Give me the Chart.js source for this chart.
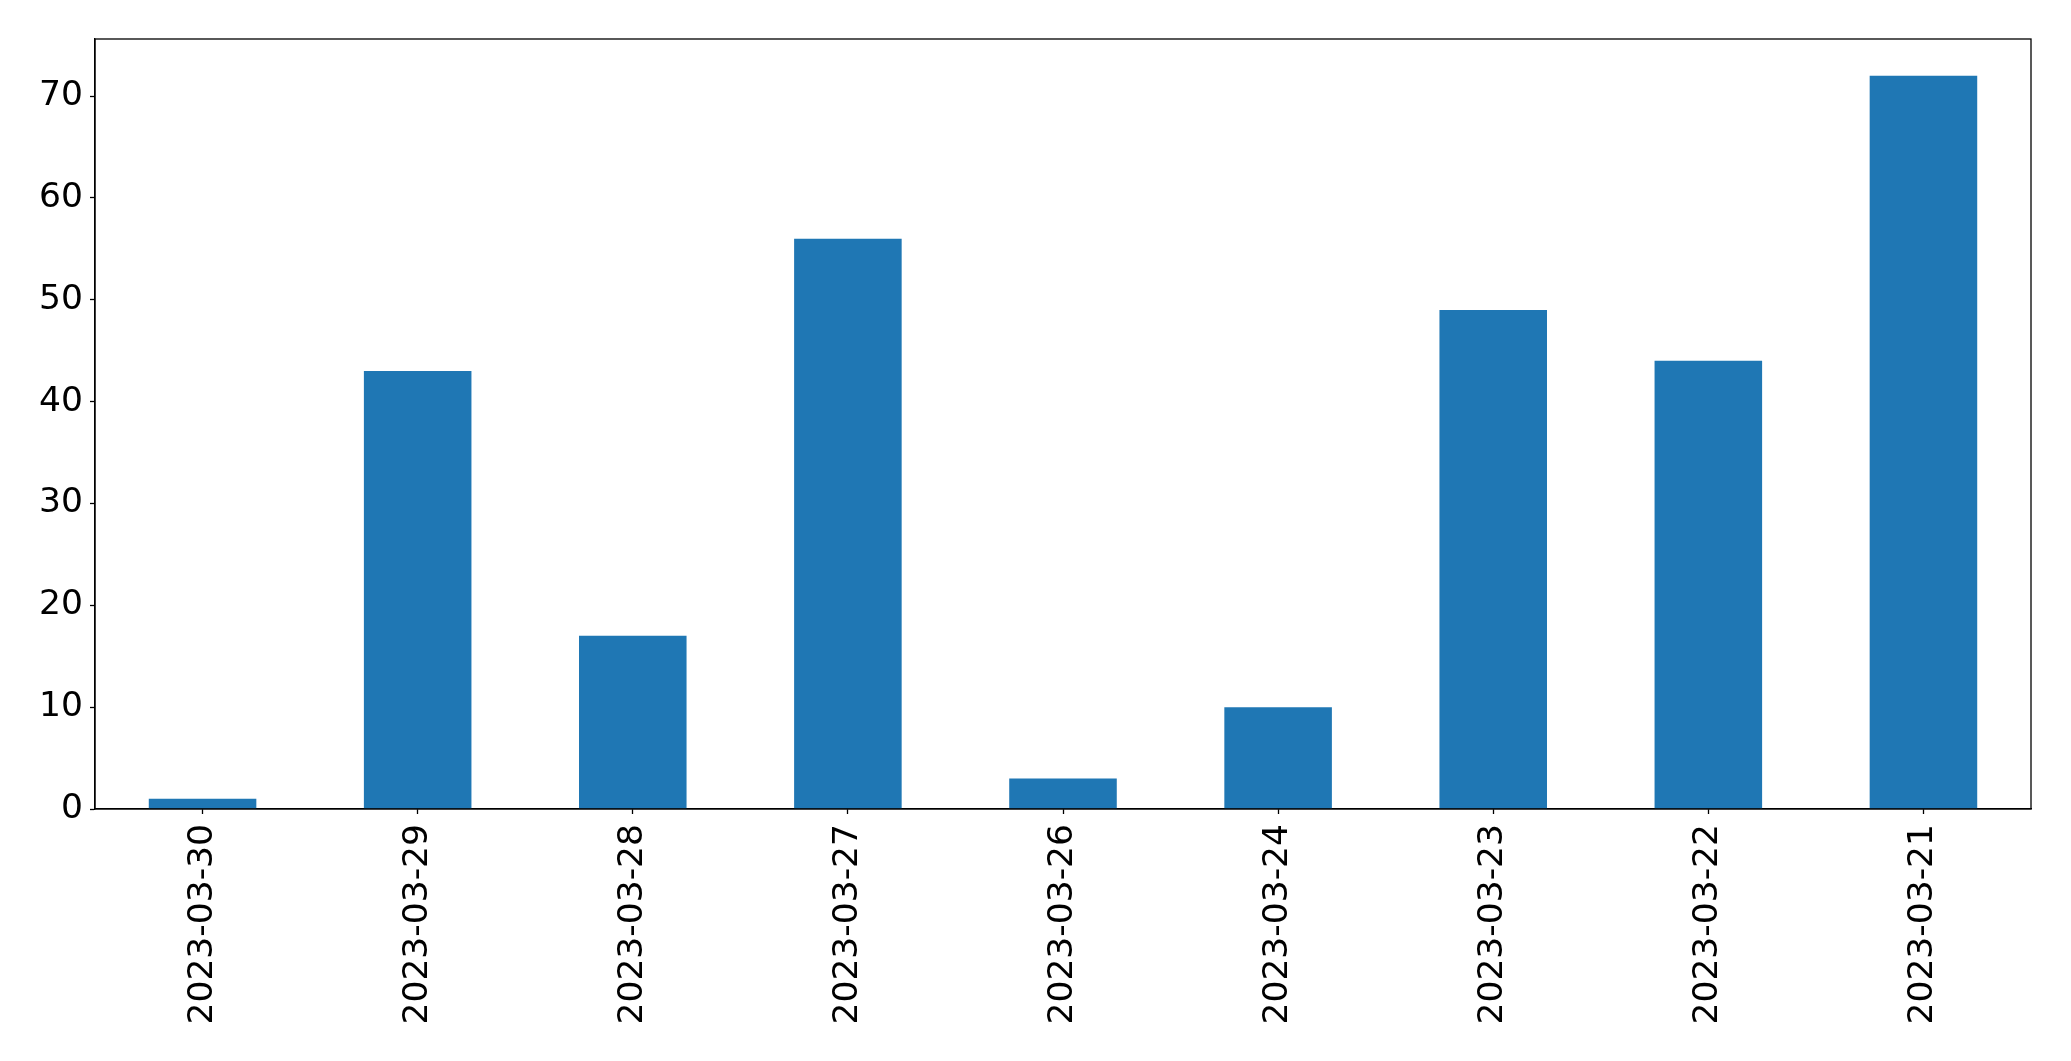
<!DOCTYPE html>
<html>
<head>
<meta charset="utf-8">
<script src="https://cdn.jsdelivr.net/npm/chart.js@4"></script>
<style>
  html, body { margin: 0; padding: 0; background: #fff; }
  canvas { display: block; }
</style>
</head>
<body>
<canvas id="grafico" width="2071" height="1061"></canvas>
<script>
const dates = ["2023-03-30", "2023-03-29", "2023-03-28", "2023-03-27", "2023-03-26",
  "2023-03-24", "2023-03-23", "2023-03-22", "2023-03-21"];
const counts = [1, 43, 17, 56, 3, 10, 49, 44, 72];
const yTicks = [0, 10, 20, 30, 40, 50, 60, 70];
const yMax = 75.6; // matplotlib-ish 5% headroom over 72

// desenha a moldura completa (spines de cima e da direita)
const framePlugin = {
  id: "frame",
  afterDraw(chart) {
    const a = chart.chartArea;
    const ctx = chart.ctx;
    ctx.save();
    ctx.strokeStyle = "#000";
    ctx.lineWidth = 1.3;
    ctx.strokeRect(a.left, a.top, a.right - a.left, a.bottom - a.top);
    ctx.restore();
  },
};

const ctx = document.getElementById("grafico").getContext("2d");
new Chart(ctx, {
  type: "bar",
  data: {
    labels: dates,
    datasets: [
      {
        data: counts,
        backgroundColor: "#1f77b4",
        borderWidth: 0,
        barPercentage: 0.5,
        categoryPercentage: 1.0,
      },
    ],
  },
  options: {
    responsive: false,
    animation: false,
    devicePixelRatio: 1,
    layout: {
      padding: { top: 39, right: 40, left: 0, bottom: 0 },
    },
    plugins: {
      legend: { display: false },
      tooltip: { enabled: false },
    },
    scales: {
      x: {
        offset: true,
        grid: {
          offset: false,
          drawOnChartArea: false,
          tickLength: 5,
          tickColor: "#000",
          tickWidth: 1.3,
        },
        border: { color: "#000", width: 1.3 },
        ticks: {
          color: "#000",
          font: { family: "DejaVu Sans", size: 34.5 },
          minRotation: 90,
          maxRotation: 90,
          padding: 10,
          autoSkip: false,
        },
        afterFit(scale) {
          scale.height = 252;
        },
      },
      y: {
        min: 0,
        max: yMax,
        grid: {
          drawOnChartArea: false,
          tickLength: 5,
          tickColor: "#000",
          tickWidth: 1.3,
        },
        border: { color: "#000", width: 1.3 },
        ticks: {
          color: "#000",
          font: { family: "DejaVu Sans", size: 34.5 },
          padding: 7,
        },
        afterBuildTicks(scale) {
          scale.ticks = yTicks.map((v) => ({ value: v }));
        },
        afterFit(scale) {
          scale.width = 95;
        },
      },
    },
  },
  plugins: [framePlugin],
});
</script>
</body>
</html>
